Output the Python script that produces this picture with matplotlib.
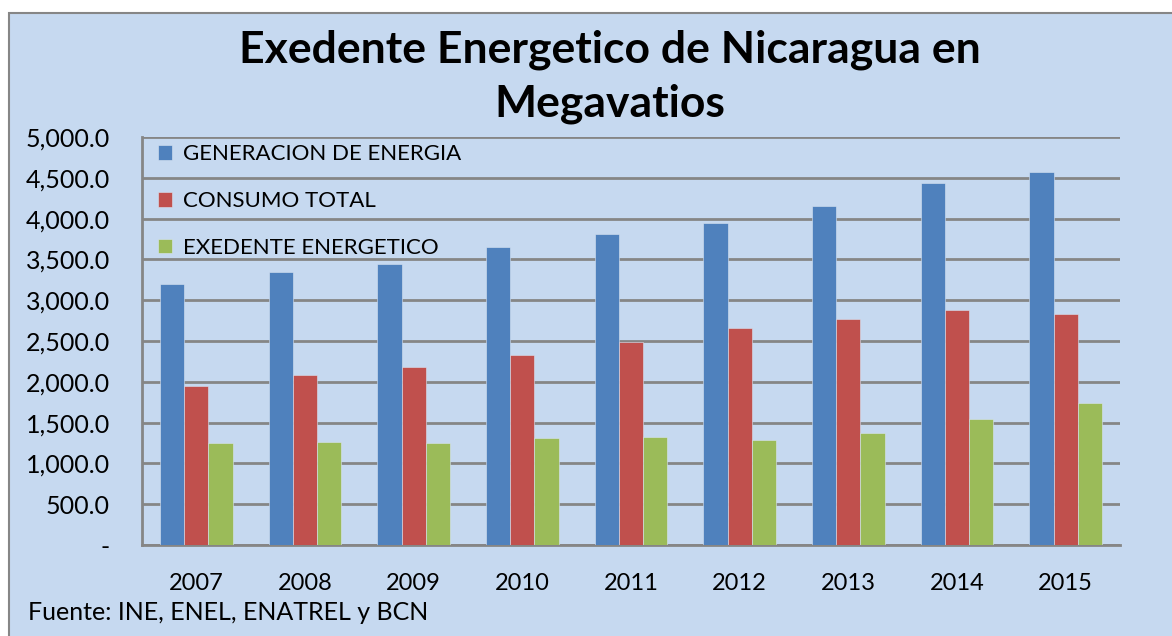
import matplotlib
matplotlib.use("Agg")
import matplotlib.pyplot as plt
import matplotlib.patches as mpatches
import numpy as np
from matplotlib.ticker import FuncFormatter

years = ["2007", "2008", "2009", "2010", "2011", "2012", "2013", "2014", "2015"]
generacion = [3198, 3349, 3444, 3652, 3815, 3946, 4150, 4432, 4575]
consumo = [1949, 2080, 2185, 2332, 2492, 2659, 2766, 2876, 2835]
exedente = [1246, 1266, 1254, 1311, 1324, 1283, 1377, 1544, 1736]
series_names = ["GENERACION DE ENERGIA", "CONSUMO TOTAL", "EXEDENTE ENERGETICO"]
colors = ["#4F81BD", "#C0504D", "#9BBB59"]

plt.rcParams['font.family'] = ['Lato', 'DejaVu Sans']
bg = "#C6D9F0"

W, H = 1172, 636
fig = plt.figure(figsize=(W / 100, H / 100), dpi=100, facecolor="white")

# chart area background with border (white margin at left/top)
fig.patches.append(mpatches.Rectangle((8.5 / W, -0.01), 1.1, 1 - 12.5 / H + 0.01,
                   transform=fig.transFigure, facecolor=bg, edgecolor="#868686",
                   linewidth=1.5, zorder=-10))

ax = fig.add_axes([142 / W, 1 - 545 / H, (1120 - 142) / W, (545 - 137) / H])
ax.set_facecolor(bg)
ax.patch.set_alpha(0)

x = np.arange(len(years))
bw = 1 / 4.5
for i, (vals, name, c) in enumerate(zip([generacion, consumo, exedente], series_names, colors)):
    ax.bar(x + (i - 1) * bw, vals, width=bw, color=c, label=name,
           edgecolor="#D9E4F2", linewidth=0.4, zorder=3)

ax.set_xlim(-0.5, len(years) - 0.5)
ax.set_ylim(0, 5000)
ax.set_yticks(np.arange(0, 5001, 500))
ax.yaxis.set_major_formatter(FuncFormatter(lambda v, p: "-" if v == 0 else f"{v:,.1f}"))
ax.set_xticks(x)
ax.set_xticklabels(years)
ax.grid(axis="y", color="#868686", linewidth=2, zorder=0)
ax.set_axisbelow(True)
for s in ["top", "right"]:
    ax.spines[s].set_visible(False)
for s in ["left", "bottom"]:
    ax.spines[s].set_color("#868686")
    ax.spines[s].set_linewidth(2)
ax.tick_params(axis="y", labelsize=18, length=0, pad=23)
ax.tick_params(axis="x", labelsize=17, length=0, pad=20)

leg = ax.legend(loc="upper left", bbox_to_anchor=(0.0, 1.02), frameon=False, fontsize=16,
                handlelength=0.65, handleheight=0.65, labelspacing=1.2, handletextpad=0.5,
                borderaxespad=0.3)

fig.text(610 / W, 1 - 77 / H, "Exedente Energetico de Nicaragua en\nMegavatios",
         ha="center", va="center", fontsize=32, fontweight="bold", linespacing=1.4)
fig.text(28 / W, 1 - 613 / H, "Fuente: INE, ENEL, ENATREL y BCN", ha="left", va="center", fontsize=18)

fig.savefig("out.png", dpi=100, facecolor="white")
